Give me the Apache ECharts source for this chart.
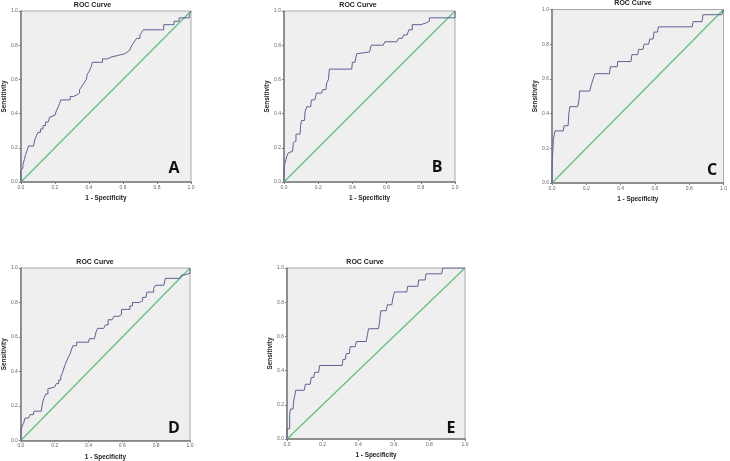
<!DOCTYPE html>
<html>
<head>
<meta charset="utf-8">
<script src="https://cdn.jsdelivr.net/npm/echarts@6/dist/echarts.min.js"></script>
<style>html,body{margin:0;padding:0;background:#fff;}#c{width:730px;height:461px;}</style>
</head>
<body>
<div id="c"></div>
<script>
var tickLabels = ['0.0','0.2','0.4','0.6','0.8','1.0'];
var panelLetters = ['A','B','C','D','E'];
var diagonal = [[0,0],[1,1]];

var rocA = [[0,0],[0,0.07],[0.006,0.08],[0.012,0.10],[0.02,0.13],[0.028,0.16],[0.035,0.18],[0.045,0.21],[0.074,0.21],[0.083,0.25],[0.092,0.27],[0.1,0.29],[0.115,0.31],[0.13,0.33],[0.145,0.35],[0.16,0.36],[0.17,0.38],[0.18,0.39],[0.2,0.40],[0.21,0.42],[0.22,0.44],[0.228,0.46],[0.235,0.48],[0.27,0.48],[0.29,0.50],[0.31,0.51],[0.33,0.52],[0.345,0.54],[0.355,0.555],[0.365,0.57],[0.375,0.585],[0.385,0.60],[0.39,0.63],[0.40,0.645],[0.41,0.665],[0.415,0.68],[0.42,0.70],[0.46,0.70],[0.48,0.72],[0.51,0.73],[0.53,0.74],[0.57,0.75],[0.61,0.76],[0.625,0.77],[0.64,0.78],[0.65,0.795],[0.66,0.81],[0.67,0.825],[0.68,0.84],[0.70,0.86],[0.71,0.875],[0.72,0.89],[0.82,0.89],[0.84,0.92],[0.88,0.92],[0.90,0.94],[0.93,0.96],[0.97,0.96],[0.99,0.98],[1,1]];

var rocB = [[0,0],[0,0.09],[0.006,0.11],[0.016,0.15],[0.025,0.17],[0.035,0.18],[0.05,0.18],[0.055,0.23],[0.064,0.24],[0.07,0.28],[0.094,0.28],[0.097,0.33],[0.103,0.36],[0.12,0.37],[0.123,0.41],[0.133,0.44],[0.156,0.44],[0.16,0.48],[0.18,0.48],[0.19,0.52],[0.22,0.52],[0.226,0.54],[0.245,0.54],[0.25,0.58],[0.26,0.60],[0.265,0.66],[0.396,0.66],[0.40,0.70],[0.415,0.71],[0.425,0.75],[0.435,0.76],[0.50,0.76],[0.51,0.80],[0.58,0.80],[0.59,0.82],[0.66,0.82],[0.67,0.84],[0.69,0.84],[0.70,0.86],[0.72,0.86],[0.73,0.89],[0.75,0.92],[0.80,0.92],[0.81,0.93],[0.83,0.94],[0.85,0.96],[1,0.96],[1,1]];

var rocC = [[0,0],[0,0.09],[0.004,0.17],[0.008,0.25],[0.017,0.30],[0.066,0.30],[0.07,0.33],[0.094,0.33],[0.098,0.40],[0.104,0.44],[0.15,0.44],[0.158,0.48],[0.16,0.53],[0.22,0.53],[0.23,0.57],[0.24,0.60],[0.25,0.63],[0.335,0.63],[0.34,0.67],[0.38,0.67],[0.383,0.70],[0.46,0.70],[0.466,0.74],[0.50,0.74],[0.505,0.77],[0.53,0.77],[0.537,0.80],[0.563,0.80],[0.57,0.83],[0.59,0.83],[0.595,0.87],[0.615,0.87],[0.62,0.90],[0.817,0.90],[0.823,0.93],[0.875,0.93],[0.88,0.97],[0.99,0.97],[1,1]];

var rocD = [[0,0],[0,0.05],[0.006,0.08],[0.016,0.10],[0.025,0.13],[0.045,0.13],[0.055,0.15],[0.074,0.15],[0.078,0.17],[0.12,0.17],[0.13,0.225],[0.138,0.25],[0.148,0.27],[0.16,0.30],[0.17,0.31],[0.20,0.31],[0.21,0.33],[0.224,0.35],[0.236,0.37],[0.245,0.39],[0.255,0.42],[0.262,0.44],[0.27,0.46],[0.28,0.48],[0.29,0.50],[0.30,0.53],[0.308,0.55],[0.33,0.57],[0.40,0.57],[0.405,0.59],[0.435,0.59],[0.445,0.63],[0.454,0.65],[0.49,0.65],[0.50,0.67],[0.516,0.70],[0.54,0.70],[0.55,0.72],[0.58,0.73],[0.595,0.76],[0.63,0.76],[0.645,0.78],[0.66,0.80],[0.70,0.80],[0.71,0.81],[0.72,0.83],[0.74,0.83],[0.745,0.86],[0.766,0.86],[0.785,0.88],[0.795,0.90],[0.845,0.90],[0.854,0.94],[0.94,0.94],[0.95,0.96],[0.97,0.97],[1,1]];

var rocE = [[0,0],[0,0.06],[0.015,0.14],[0.019,0.175],[0.034,0.175],[0.037,0.22],[0.043,0.25],[0.049,0.285],[0.097,0.285],[0.103,0.32],[0.13,0.32],[0.136,0.36],[0.15,0.36],[0.155,0.39],[0.178,0.39],[0.183,0.43],[0.31,0.43],[0.314,0.465],[0.327,0.465],[0.333,0.50],[0.35,0.50],[0.355,0.54],[0.383,0.54],[0.39,0.57],[0.445,0.57],[0.452,0.61],[0.458,0.645],[0.514,0.645],[0.52,0.685],[0.527,0.75],[0.557,0.75],[0.564,0.785],[0.589,0.785],[0.594,0.82],[0.604,0.86],[0.673,0.86],[0.678,0.893],[0.735,0.893],[0.74,0.93],[0.776,0.93],[0.781,0.966],[0.869,0.966],[0.875,1.0],[1,1]];

var curves = [rocA, rocB, rocC, rocD, rocE];

// layout (pixels)
var grids = [
  {left:19, top:11, width:172, height:171},
  {left:284, top:11, width:171, height:171},
  {left:552, top:9.5, width:173, height:173.5},
  {left:19, top:268, width:171, height:173},
  {left:287, top:268, width:178, height:171}
];
var titlePos = [[92.5,5],[358,5],[633,2.7],[95,262.3],[365,262.3]];
var letterPos = [[174,168],[437,167],[712,170],[174,428],[451,428]];

var option = {
  animation:false,
  backgroundColor:'#ffffff',
  grid:[], xAxis:[], yAxis:[], series:[], graphic:[]
};
var fontFam = '"Liberation Sans", Arial, sans-serif';
grids.forEach(function(g, i){
  option.grid.push({left:g.left, top:g.top, width:g.width, height:g.height, show:true,
    backgroundColor:'#efefef', borderColor:'#a8a8a8', borderWidth:1, containLabel:false});
  var axisCommon = {
    gridIndex:i, type:'value', min:0, max:1, interval:0.2,
    axisLine:{show:true, lineStyle:{color:'#7a7a7a', width:1.5}},
    axisTick:{show:true, length:2, lineStyle:{color:'#7a7a7a'}},
    splitLine:{show:false},
    axisPointer:{show:false},
    axisLabel:{fontSize:5, color:'#666', fontFamily:fontFam, margin:3,
      formatter:function(v){ return tickLabels[Math.round(v/0.2)]; }},
    nameLocation:'middle',
    nameTextStyle:{fontSize:6.4, fontWeight:'bold', color:'#222', fontFamily:fontFam}
  };
  option.xAxis.push(Object.assign({}, axisCommon, {name:'1 - Specificity', nameGap:13.5}));
  option.yAxis.push(Object.assign({}, axisCommon, {name:'Sensitivity', nameGap:12}));
  option.series.push({type:'line', name:'diag'+i, xAxisIndex:i, yAxisIndex:i,
    data:diagonal.map(function(p){return p.slice();}), symbol:'none', silent:true,
    color:'#62c27a', itemStyle:{color:'#62c27a'},
    lineStyle:{color:'#62c27a', width:1.3, opacity:1}, emphasis:{disabled:true}, z:2});
  option.series.push({type:'line', name:'roc'+i, xAxisIndex:i, yAxisIndex:i, data:curves[i], symbol:'none', step:'end',
    silent:true, color:'#5d6294', itemStyle:{color:'#5d6294'},
    lineStyle:{color:'#5d6294', width:1}, emphasis:{disabled:true}, z:3});
  option.graphic.push({type:'text', x:titlePos[i][0], y:titlePos[i][1],
    style:{text:'ROC Curve', fontSize:7, fontWeight:'bold', fill:'#222', fontFamily:fontFam,
      align:'center', verticalAlign:'middle'}});
  option.graphic.push({type:'text', x:letterPos[i][0], y:letterPos[i][1],
    style:{text:panelLetters[i], fontSize:16, fontWeight:'bold', fill:'#111', fontFamily:'"Open Sans", "Noto Sans", sans-serif',
      align:'center', verticalAlign:'middle'}});
});
var chart = echarts.init(document.getElementById('c'), null, {renderer:'canvas'});
chart.setOption(option);
</script>
</body>
</html>
